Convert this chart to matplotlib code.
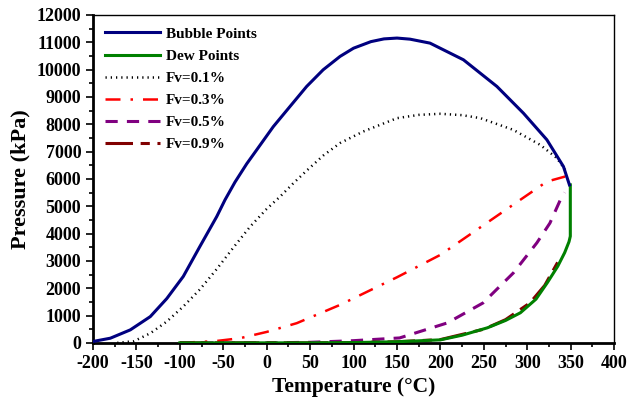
import matplotlib
matplotlib.use('Agg')
import matplotlib.pyplot as plt
from matplotlib.ticker import MultipleLocator

plt.rcParams['font.family'] = ['Liberation Serif', 'DejaVu Serif']
plt.rcParams['font.weight'] = 'bold'
plt.rcParams['axes.unicode_minus'] = False

# Bubble / dew envelope
bub_t = [-200, -180, -157, -134, -115, -96, -77, -57.5, -48, -36.5, -23, -11.5, 7.6, 26.9,
         46, 65, 84.5, 100, 120, 135, 150, 165, 188, 226.5, 265, 295.6, 322.5, 341.6, 348.5]
bub_p = [50, 170, 475, 960, 1620, 2430, 3520, 4620, 5230, 5880, 6550, 7060, 7910, 8650,
         9380, 9990, 10480, 10780, 11020, 11120, 11150, 11110, 10965, 10355, 9380, 8400,
         7430, 6450, 5780]

dew_t = [-100, 0, 50, 100, 150, 200, 225, 254, 275, 292, 310, 323, 335, 343, 348, 349.5, 349.5]
dew_p = [0, 0, 0, 10, 40, 110, 280, 550, 820, 1100, 1600, 2200, 2800, 3300, 3700, 3900, 5780]

# Quality lines
fv01_t = [-172, -153, -134, -115, -96, -77, -57.5, -38, -19, 0, 15.4, 30.7, 46, 65, 84.5,
          111, 150, 175, 200, 225, 246, 284, 315, 334, 343.6]
fv01_p = [0, 60, 350, 780, 1330, 1950, 2700, 3500, 4255, 4900, 5350, 5840, 6300, 6850, 7310,
          7730, 8220, 8340, 8380, 8330, 8220, 7790, 7240, 6760, 6330]

fv03_t = [-100, -60, -30.7, 0, 34.6, 84.5, 150, 200, 241.8, 291.8, 322.5, 343.6]
fv03_p = [0, 60, 170, 400, 720, 1390, 2400, 3220, 4135, 5230, 5900, 6085]

fv05_t = [-100, 0, 50, 100, 153, 208, 249, 284, 311, 326, 338, 343]
fv05_p = [0, 0, 20, 80, 180, 730, 1460, 2560, 3660, 4380, 5230, 5500]

fv09_t = [-100, 0, 50, 100, 150, 200, 250, 275, 303, 320, 335]
fv09_p = [0, 0, 0, 10, 40, 120, 500, 850, 1460, 2100, 2950]

fig = plt.figure(figsize=(6.28, 4.01), dpi=100)
ax = fig.add_axes([0.148, 0.145, 0.830, 0.818])

ax.plot(bub_t, bub_p, color='#00007f', lw=2.2, label='Bubble Points', zorder=4)
ax.plot(dew_t, dew_p, color='#008000', lw=2.2, label='Dew Points', zorder=3)
ax.plot(fv01_t, fv01_p, color='black', lw=1.8, linestyle=(0, (0.5, 1.6)), label='Fv=0.1%')
ax.plot(fv03_t, fv03_p, color='red', lw=1.8, linestyle=(0, (6, 4, 1, 4)), label='Fv=0.3%')
ax.plot(fv05_t, fv05_p, color='#800080', lw=2.2, linestyle=(0, (4, 3)), label='Fv=0.5%')
ax.plot(fv09_t, fv09_p, color='#800000', lw=2.2, linestyle=(0, (9, 2.5, 3, 2.5)), label='Fv=0.9%')

ax.set_xlim(-200, 400)
ax.set_ylim(0, 12000)
ax.xaxis.set_major_locator(MultipleLocator(50))
ax.xaxis.set_minor_locator(MultipleLocator(25))
ax.yaxis.set_major_locator(MultipleLocator(1000))
ax.yaxis.set_minor_locator(MultipleLocator(500))
ax.tick_params(which='both', direction='out', width=1.2, labelsize=13)
ax.tick_params(which='major', length=5)
ax.tick_params(which='minor', length=3)
for s in ['left', 'bottom']:
    ax.spines[s].set_linewidth(2)
for s in ['top', 'right']:
    ax.spines[s].set_linewidth(1)
for lab in ax.get_xticklabels() + ax.get_yticklabels():
    lab.set_fontweight('bold')

ax.set_xlabel('Temperature (°C)', fontsize=15.5, fontweight='bold')
ax.set_ylabel('Pressure (kPa)', fontsize=16, fontweight='bold')

leg = ax.legend(loc='upper left', frameon=False, fontsize=11, handlelength=3.6,
                labelspacing=0.55, handletextpad=0.4, borderaxespad=0.4)
for t in leg.get_texts():
    t.set_fontweight('bold')

fig.savefig('out.png', dpi=100)
